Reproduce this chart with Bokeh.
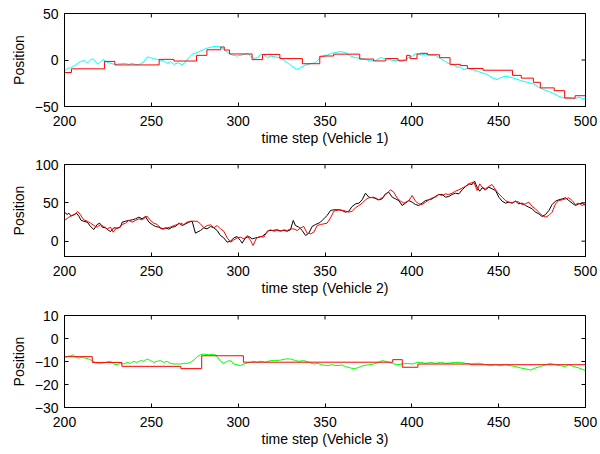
import math
from bokeh.plotting import figure
from bokeh.layouts import column
from bokeh.models import FixedTicker
from bokeh.embed import file_html
from bokeh.resources import INLINE

# ---------------- data ----------------
x_ticks = [200, 250, 300, 350, 400, 450, 500]

# Vehicle 1: estimate (cyan) and tracked step signal (red)
v1_est_t = [200, 201.5, 203.5, 205.4, 207.3, 209.2, 211.1, 212.1, 213.4, 215, 216.5, 217.9, 219.2, 220.7, 222.6,
            223.6, 225.5, 227.4, 229.4, 232.2, 235.1, 237, 239, 241.8, 243.8, 245.7, 247.6, 249.5, 251.4, 253.4,
            255.3, 257.2, 259.1, 261, 263, 265.8, 267.8, 269.7, 271.6, 273.5, 276.4, 279.3, 282.1, 285, 287.9,
            289.8, 291.7, 293.7, 296.5, 299.4, 302.3, 305.2, 307.1, 309, 310.9, 312.9, 314.8, 316.7, 318.6, 321.5,
            324.4, 326.3, 329.2, 332.1, 334, 335.9, 338.8, 341.7, 344.5, 347.4, 349.3, 351.2, 353.2, 356, 358.9,
            361.8, 364.7, 367.6, 370.4, 373.3, 376.2, 379.1, 382, 383.9, 385.8, 388.7, 391.5, 394.4, 396.3, 398.3,
            400.2, 402.1, 405, 407.9, 410.7, 413.6, 416.5, 419.4, 422.3, 424.2, 426.1, 428, 430, 431.9, 434.7,
            437.6, 440.5, 443.4, 446.2, 449.1, 451, 453.9, 456.8, 459.7, 462.6, 466.4, 470.2, 473.1, 476, 478.9,
            481.8, 484.6, 487.5, 490.4, 493.3, 496.2, 499.1, 500]
v1_est = [-12, -9, -8.3, -6.5, -4, -1.8, -0.4, -1.8, -2.9, 0, 1.4, -1.8, -4.7, -1.8, 0.7,
          -1.8, -2.9, -4, -4.7, -4, -3.6, -4.7, -3.6, -5.4, -4, -1.8, 3.3, 2.5, 1.4, 0.7,
          -0.4, -1, -3.6, -1.8, -4.7, -2.9, -5.4, -1.8, 2.5, 6.2, 8, 10.5, 12.7, 14.1, 14.9,
          14.1, 11.6, 8.3, 5.4, 4.3, 5.4, 6.9, 4.3, 1.8, 2.5, 6.2, 5.4, 2.5, 4.3, 3.3,
          2.5, -0.4, -4, -8.3, -10.1, -8.3, -5.4, -4, -2.9, 2.5, 5.1, 5.1, 6.9, 8, 9,
          8, 4.3, 2.5, 1.8, 0.7, -1, -0.4, 2.5, 1.8, 1.4, -0.4, -0.4, -1.8, 0.7, 2.5,
          4, 6.9, 5.4, 6.2, 5.1, 5.1, 1.4, -1.8, -4.7, -5.4, -7.6, -7.6, -10.5, -9, -10.1,
          -12, -13.8, -15.6, -19.2, -21, -19.2, -17.4, -18.5, -20.3, -22, -24, -25.7, -29.3, -31.9, -33.7,
          -36.2, -39.1, -40.9, -40.2, -41.7, -40.2, -41.7, -41]
v1_trk_t = [200, 204, 223, 229, 254.5, 263, 276, 282, 290, 292, 295, 308, 314, 324, 337, 347, 350, 355,
            370, 378, 385, 392, 397, 399, 403, 405, 409, 416, 422, 428, 432, 441, 458, 463, 470, 474, 482,
            488, 494, 500]
v1_trk = [-13.5, -9.5, -1.5, -5.3, 0.7, -1.1, 5, 11, 14, 10.7, 6.5, 0.4, 6, 1.5, -4, 4, 4.3, 6.3,
          1.0, -1, 1.5, -0.3, 5, 1.5, 6.5, 7.2, 5.6, 2.5, -4.7, -6, -9.1, -11, -16.5, -19.5, -24, -30, -33,
          -41, -38.4, -38.4]

# Vehicle 2: estimate (black) and tracked signal (red)
v2_est_t = [200, 201.5, 202.5, 203.8, 205.4, 206.9, 208.3, 209.6, 211.1, 213.1, 215, 216.9, 218.8, 220.3,
            221.7, 223.6, 225.5, 226.5, 228.4, 230.3, 232.2, 233.2, 235.1, 237, 239, 240.9, 242.8, 244.7,
            246.6, 248.6, 250.5, 252.4, 254.3, 256.2, 258.2, 260.1, 262, 263.9, 265.8, 267.8, 269.7, 271.6,
            273.5, 275.4, 276.4, 278.3, 280.2, 282.1, 284.1, 286, 287.9, 289.8, 291.7, 293.7, 295.6, 297.5,
            299.4, 301.3, 302.3, 304.2, 306.1, 308.1, 310, 311.9, 313.8, 315.7, 317.7, 319.6, 322.5, 324.4,
            326.3, 328.2, 330.1, 331.7, 333, 334.9, 336.9, 338.8, 340.7, 342.6, 344.5, 346.4, 347.4, 349.3,
            351.2, 353.2, 355.1, 358, 359.9, 361.8, 363.7, 365.6, 367.6, 369.5, 371.4, 373.3, 375.2, 378.1,
            381, 382.9, 384.8, 386.7, 388.7, 390.6, 392.5, 394.4, 396.3, 398.3, 400.2, 402.1, 404, 405.9,
            407.9, 409.8, 411.7, 413.6, 415.5, 417.5, 419.4, 421.3, 423.2, 425.1, 427.1, 429, 430.9, 432.8,
            434.7, 436.1, 437.6, 439.1, 440.5, 442.4, 444.3, 446.2, 448.2, 450.1, 452, 453.9, 455.8, 457.8,
            459.7, 461.6, 463.5, 465.4, 467.4, 469.3, 471.2, 473.1, 475, 477, 478.9, 480.8, 482.7, 484.6,
            486.6, 488.5, 490.4, 492.3, 494.2, 496.2, 498.1, 500]
v2_est = [37.8, 34.8, 36.5, 33, 34.3, 36.5, 32.6, 27, 26, 24.8, 19.1, 15.2, 21.7, 23.5,
          18.3, 17.4, 13.9, 12.6, 17.4, 17, 18.3, 24.8, 26, 27, 27.8, 29.1, 31.3, 29.1,
          32.2, 24.8, 21.7, 19.1, 18.3, 15.7, 17.4, 15.7, 18.3, 19.1, 23.5, 20.4, 22.6, 24.8,
          26, 10.4, 11.7, 13.9, 17.4, 16, 19.1, 17.4, 13.9, 7.4, 4.3, -1.3, 0, 4.3,
          6.1, 0.9, -2.6, 4.3, 6.1, 3, 4.3, 5.2, 6.1, 9.6, 13.9, 13.9, 14.8, 13.5,
          13.9, 13, 14.8, 27, 20.4, 18.3, 13.9, 7.4, 10.4, 19.1, 21.7, 23.5, 24.8, 29.1,
          33.5, 40, 40.9, 40.9, 40, 37.8, 39.1, 45.2, 48.7, 49.6, 53.9, 62.6, 57.4, 56.5,
          53.9, 55.2, 61.7, 63.9, 57.4, 55.2, 53, 46.5, 49.6, 53, 50.9, 47.8, 46.5, 49.6,
          53, 53.9, 55.2, 58.3, 60.9, 60.9, 57.4, 58.3, 60.9, 62.6, 61.7, 67, 71.3, 74.8,
          73.9, 78.3, 70.4, 65.2, 69.6, 67, 70.4, 68.3, 66.1, 57.4, 52.2, 49.6, 50.9, 49.6,
          52.2, 48.7, 49.6, 46.5, 44.3, 42.2, 37.8, 35.7, 32.2, 34.8, 40, 47.8, 52.2, 53.9,
          55.2, 56.5, 53, 49.6, 46.5, 48.7, 49.6, 46.5]
v2_trk_t = [200, 202.5, 204.4, 206.3, 207.7, 209.2, 211.1, 213.1, 215, 216.9, 218.8, 220.7, 222.6, 224.6,
            226.5, 228, 229.4, 231.3, 233.2, 235.1, 237, 239, 240.9, 242.8, 244.7, 247.6, 249.5, 251.4,
            253.4, 255.3, 257.2, 259.1, 261, 263, 264.9, 266.8, 268.7, 270.6, 272.6, 276.4, 278.3, 280.2,
            282.1, 284.1, 286, 287.9, 289.8, 291.7, 293.7, 295.6, 297.5, 299.4, 301.3, 303.3, 305.2, 307.1,
            308.6, 310.6, 312.9, 314.8, 316.7, 318.6, 320.6, 322.5, 324.4, 326.3, 328.2, 330.1, 332.1, 334,
            335.9, 337.8, 339.7, 341.7, 343.6, 345.5, 347.4, 349.3, 351.2, 353.2, 355.1, 358, 360.8, 363.7,
            365.6, 367.6, 369.5, 371.4, 373.3, 375.2, 378.1, 381, 383.9, 385.8, 387.7, 389.6, 391.5, 393.5,
            395.4, 398.3, 400.2, 402.1, 404, 405.9, 407.9, 409.8, 411.7, 413.6, 415.5, 417.5, 419.4, 421.3,
            423.2, 425.1, 427.1, 429.9, 431.9, 433.8, 435.7, 437.6, 439.1, 440.5, 442.4, 444.3, 446.2, 448.2,
            450.1, 452, 453.9, 455.8, 457.8, 459.7, 461.6, 463.5, 465.4, 467.4, 469.3, 471.2, 473.1, 475,
            477, 478.9, 480.8, 482.7, 484.6, 486.6, 488.5, 490.4, 492.3, 494.2, 496.2, 498.1, 500]
v2_trk = [27, 31.3, 33.5, 35.7, 38.7, 34.3, 27.8, 26, 23.5, 20.4, 18.3, 21.7, 19.1, 16,
          18.3, 11.7, 16, 17.4, 21.7, 23.5, 27, 24.8, 27, 29.1, 27.8, 32.6, 27, 23.5,
          21.7, 17.4, 16, 17.4, 18.3, 20.4, 21.7, 23.5, 21.7, 24.8, 26, 26, 22.6, 17.4,
          20.4, 21.3, 17.4, 20.4, 16, 13, 4.3, -1.3, 1.7, 4.3, 5.2, 3, 7.4, 0.9,
          -5.6, 4.3, 6.1, 5.2, 13, 14.8, 13, 13.9, 13, 14.8, 13.9, 16, 16, 13.9,
          17.4, 19.1, 10.4, 9.6, 11.7, 20.4, 21.7, 22.6, 23.5, 30.4, 39.1, 40.9, 40, 37.8,
          39.1, 43.5, 46.5, 49.6, 53.9, 56.5, 57.4, 53.9, 58.3, 62.6, 67, 63.9, 56.5, 52.2,
          49.6, 53, 59.6, 52.2, 48.7, 47.8, 50.9, 53.9, 56.5, 57.4, 60.9, 59.6, 61.7, 60.9,
          62.6, 65.2, 67, 70.4, 72.6, 75.7, 77, 66.1, 74.8, 70.4, 68.3, 71.3, 73.9, 67,
          61.7, 57.4, 53, 50.9, 50, 52.2, 50.9, 47.8, 48.7, 50.9, 45.2, 42.2, 37.8, 33.5,
          31.3, 33.5, 37.8, 48.7, 53, 53.9, 55.2, 56.5, 53, 47.8, 49.6, 46.5, 48.7]

# Vehicle 3: estimate (green) and tracked step signal (red)
v3_est_t = [200, 201.5, 203.5, 205, 206.3, 208.3, 210.2, 212.1, 214, 215.9, 217.9, 220.7, 223.6, 226.5,
            228.4, 230.3, 232.2, 234.2, 236.1, 238, 239.9, 241.8, 243.8, 245.7, 247.6, 249.5, 251.4, 253.4,
            255.3, 257.2, 259.1, 261, 263, 264.9, 266.8, 268.7, 270.6, 272.6, 274.5, 276.4, 278.3, 280.2,
            283.1, 286, 287.9, 289.8, 291.7, 293.7, 295.6, 297.5, 299.4, 301.3, 303.3, 305.2, 307.1, 309,
            310.9, 312.9, 315.7, 318.6, 321.5, 324.4, 327.3, 330.1, 333, 334.9, 337.8, 340.7, 343.6, 345.5,
            348.4, 351.2, 354.1, 357, 359.9, 361.8, 364.7, 366.6, 368.5, 370.4, 372.4, 375.2, 378.1, 381,
            382.9, 384.8, 386.7, 388.7, 391.5, 394.4, 397.3, 400.2, 403.1, 405, 407.9, 410.7, 413.6, 416.5,
            419.4, 422.3, 425.1, 428, 430.9, 433.8, 436.7, 439.5, 442.4, 445.3, 448.2, 451, 453.9, 456.8,
            459.7, 462.6, 465.4, 468.3, 471.2, 474.1, 477, 479.8, 482.7, 485.6, 488.5, 490.4, 493.3, 496.2,
            499.1, 500]
v3_est = [-8.2, -7.9, -7.5, -7.1, -8.2, -8.5, -8.2, -8.5, -8.9, -9.6, -10.6, -10.8, -10.4, -9.9,
          -11.1, -11.4, -10.8, -11.1, -10.4, -10.8, -9.9, -10.4, -9.6, -9.9, -8.9, -9.6, -10.4, -9.9,
          -9.6, -10.4, -9.9, -10.8, -11.1, -11.1, -11.1, -10.8, -10.8, -10.4, -9.4, -7.9, -7.1, -6.8,
          -7.1, -6.8, -7.9, -9.9, -10.8, -9.9, -9.6, -11.1, -11.4, -11.8, -11.1, -10.6, -10.4, -9.9,
          -10.4, -9.9, -10.4, -9.6, -9.6, -9.4, -8.9, -8.9, -9.6, -9.9, -9.6, -10.4, -11.1, -10.8,
          -11.4, -11.8, -11.4, -11.8, -11.5, -12.2, -12.8, -13.2, -12.8, -12.2, -11.8, -11.4, -11.1, -10.4,
          -9.6, -9.9, -10.4, -10.8, -11.4, -11.1, -10.8, -11.1, -10.4, -10.4, -10.8, -10.4, -10.8, -10.4,
          -10.8, -10.6, -10.4, -10.4, -10.8, -11.1, -10.8, -10.8, -11.4, -11.8, -11.4, -11.8, -11.4, -11.8,
          -12.2, -12.8, -13.2, -13.7, -12.8, -12.2, -11.4, -10.8, -11.4, -11.8, -12.2, -11.4, -12.2, -12.8,
          -13.7, -13.9]
v3_trk_t = [200, 216, 233, 267, 279, 303, 389, 394.5, 403.5, 434, 500]
v3_trk = [-7.9, -10.4, -12.1, -13.1, -7.5, -10.3, -9.2, -12.5, -11.1, -11.4, -11.4]

y1_ticks = [-50, 0, 50]
y2_ticks = [0, 50, 100]
y3_ticks = [-30, -20, -10, 0, 10]

FONT = "Liberation Sans"
FS = "14px"
X_RANGE = (200, 500)


def minus(ticks):
    return {t: ("\u2212" + str(abs(t)) if t < 0 else str(t)) for t in ticks}


def make_panel(yr, yticks, xlabel, frame_h, b_top, b_bottom):
    p = figure(frame_width=521, frame_height=frame_h, x_range=X_RANGE, y_range=yr,
               output_backend="svg", toolbar_location=None,
               min_border_left=64, min_border_right=12, min_border_top=b_top,
               min_border_bottom=b_bottom, background_fill_color="white",
               border_fill_color="white")
    p.grid.visible = False
    p.outline_line_color = "black"
    p.outline_line_width = 1
    for ax, tk in ((p.xaxis[0], x_ticks), (p.yaxis[0], yticks)):
        ax.ticker = FixedTicker(ticks=tk)
        ax.major_label_overrides = minus(tk)
        ax.major_tick_in = 4
        ax.major_tick_out = 0
        ax.minor_tick_line_color = None
        ax.axis_line_color = "black"
        ax.major_tick_line_color = "black"
        ax.major_label_text_font = FONT
        ax.major_label_text_font_size = FS
        ax.major_label_text_color = "black"
        ax.axis_label_text_font = FONT
        ax.axis_label_text_font_size = FS
        ax.axis_label_text_font_style = "normal"
        ax.axis_label_text_color = "black"
    p.xaxis[0].axis_label = xlabel
    p.xaxis[0].major_label_standoff = 9
    p.xaxis[0].axis_label_standoff = 1
    p.yaxis[0].axis_label = "Position"
    p.yaxis[0].major_label_standoff = 6
    p.yaxis[0].axis_label_standoff = 5
    # inward tick marks on the top and right edges of the box (MATLAB "box on")
    p.scatter(x_ticks, [yr[1]] * len(x_ticks), marker="dash", angle=math.pi / 2, size=8,
              line_color="black", line_width=1)
    p.scatter([X_RANGE[1]] * len(yticks), yticks, marker="dash", size=8,
              line_color="black", line_width=1)
    return p


p1 = make_panel((-50, 50), y1_ticks, "time step (Vehicle 1)", 93, 13, 48)
p1.line(v1_est_t, v1_est, line_color="#00FFFF", line_width=1)
p1.step(v1_trk_t, v1_trk, mode="after", line_color="#FF0000", line_width=1)

p2 = make_panel((-20, 100), y2_ticks, "time step (Vehicle 2)", 92, 10, 49)
p2.line(v2_est_t, v2_est, line_color="black", line_width=1)
p2.line(v2_trk_t, v2_trk, line_color="#FF0000", line_width=1)

p3 = make_panel((-30, 10), y3_ticks, "time step (Vehicle 3)", 92, 10, 38)
p3.line(v3_est_t, v3_est, line_color="#00FF00", line_width=1)
p3.step(v3_trk_t, v3_trk, mode="after", line_color="#FF0000", line_width=1)

layout = column(p1, p2, p3, spacing=0)
open("out.html", "w").write(file_html(layout, INLINE))
